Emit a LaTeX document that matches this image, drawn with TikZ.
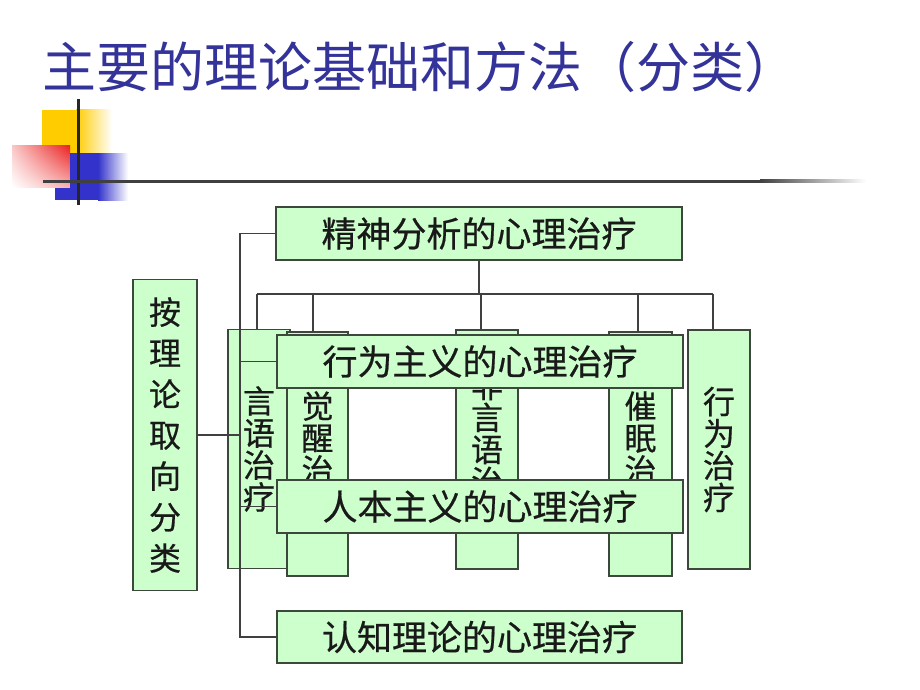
\documentclass[tikz,border=0pt]{standalone}
\usepackage{fontspec}
\usetikzlibrary{shadings}
\newfontfamily\cjk{Noto Sans CJK SC}
\newfontfamily\cjkbox[FakeBold=0.6]{Noto Sans CJK SC}
\definecolor{titleblue}{RGB}{51,51,153}
\definecolor{boxfill}{RGB}{204,255,204}
\definecolor{boxline}{RGB}{60,72,60}
\definecolor{linkgray}{RGB}{64,64,64}
\definecolor{ylw}{RGB}{255,204,0}
\definecolor{blu}{RGB}{51,51,204}
\definecolor{rd}{RGB}{235,30,30}

\begin{document}
\begin{tikzpicture}[x=1pt,y=-1pt,
		hbox/.style={draw=boxline,fill=boxfill,line width=1.2pt,minimum width=406pt,minimum height=53pt,inner sep=0pt,text=black!90,font=\cjkbox\fontsize{35}{35}\selectfont},
		vbox/.style={draw=boxline,fill=boxfill,line width=1.2pt,minimum width=62pt,minimum height=239pt,inner sep=0pt,align=center,text=black!90,font=\cjkbox\fontsize{32}{32}\selectfont},
		link/.style={draw=linkgray,line width=1.3pt}]
	\useasboundingbox (0,0) rectangle (920,690);
	\node [anchor=west,inner sep=0pt,text=titleblue,font=\cjk\fontsize{54}{54}\selectfont] (title) at (42,67) {主要的理论基础和方法（分类）};
	\fill [ylw] (42,110) rectangle (76,153);
	\shade [left color=ylw,right color=white] (76,110) rectangle (112,153);
	\shade [upper right=rd,upper left=rd!25,lower right=rd!35,lower left=white] (12,145) rectangle (70,187);
	\fill [blu] (70,153) rectangle (98,200);
	\shade [left color=blu,right color=white] (98,153) rectangle (128,200);
	\fill [blu] (55,188) rectangle (70,200);
	\draw [line width=3pt,black!85] (78,99) -- (78,205);
	\draw [line width=3pt,black!75] (43,181) -- (760,181);
	\shade [left color=black!75,right color=white] (760,179.5) rectangle (866,182.5);

	\node [vbox] (t1) at (259,449) {言\\语\\治\\疗};
	\node [vbox,minimum width=61pt,minimum height=244pt] (t2) at (317.5,454) {觉\\醒\\治\\疗};
	\node [vbox] (t3) at (487,449.5) {非\\言\\语\\治\\疗};
	\node [vbox,minimum width=63pt,minimum height=244pt] (t4) at (640.5,454) {催\\眠\\治\\疗};
	\node [vbox] (t5) at (719,449.5) {行\\为\\治\\疗};

	\node [hbox] (psy) at (479,233.5) {精神分析的心理治疗};
	\node [hbox] (beh) at (480,361.5) {行为主义的心理治疗};
	\node [hbox] (hum) at (480,506.5) {人本主义的心理治疗};
	\node [hbox,minimum width=405pt,minimum height=52pt] (cog) at (479.5,637) {认知理论的心理治疗};
	\node [vbox,minimum width=64pt,minimum height=311pt,font=\cjkbox\fontsize{32}{41}\selectfont] (cls) at (165,435) {按\\理\\论\\取\\向\\分\\类};

	\coordinate (spine) at (240,0);
	\coordinate (bar) at (0,294);
	\draw [link] (psy.west) -- (psy.west -| spine) -- (cog.west -| spine) -- (cog.west);
	\draw [link] (beh.west) -- (beh.west -| spine);
	\draw [link] (hum.west) -- (hum.west -| spine);
	\draw [link] (cls.east) -- (cls.east -| spine);
	\draw [link] (psy.south) -- (psy.south |- bar);
	\draw [link] ([xshift=-2pt]t1.north |- bar) -- ([xshift=-6pt]t5.north |- bar);
	\foreach \i/\dx in {1/-2,2/-4.5,3/-6,4/-2.5,5/-6}
		\draw [link] ([xshift=\dx pt]t\i.north) -- ([xshift=\dx pt]t\i.north |- bar);
\end{tikzpicture}
\end{document}
